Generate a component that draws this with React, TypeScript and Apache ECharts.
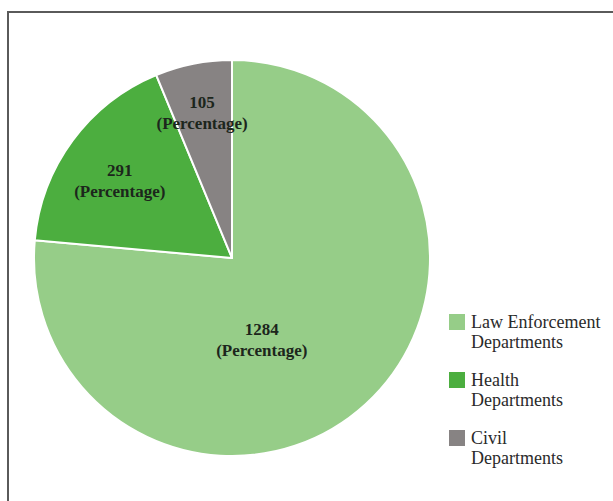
import React, { useEffect, useRef } from "react";
import * as echarts from "echarts";

const categories = ["Law Enforcement Departments", "Health Departments", "Civil Departments"];
const values = [1284, 291, 105];
const colors = ["#96cd88", "#4cae3f", "#878383"];
const labelOffsets: [number, number][] = [[-39, 7], [-30, -17], [-10, -45]];

export default function App() {
  const ref = useRef<HTMLDivElement>(null);
  useEffect(() => {
    if (!ref.current) return;
    const chart = echarts.init(ref.current, undefined, { renderer: "svg" });
    chart.setOption({
      animation: false,
      backgroundColor: "#ffffff",
      graphic: [
        {
          type: "rect",
          shape: { x: 8, y: 12, width: 640, height: 520 },
          style: { fill: "none", stroke: "#5a5a5a", lineWidth: 2 },
          silent: true,
        },
      ],
      legend: {
        orient: "vertical",
        left: 447,
        top: 292,
        padding: 0,
        itemWidth: 18,
        itemHeight: 18,
        itemGap: -2,
        icon: "rect",
        data: categories,
        formatter: (name: string) => "\n" + name.replace(" Departments", "\nDepartments"),
        textStyle: {
          fontFamily: "Liberation Serif",
          fontSize: 18,
          lineHeight: 20,
          color: "#2a2a2a",
        },
      },
      series: [
        {
          type: "pie",
          center: [232, 258],
          radius: 198,
          startAngle: 90,
          clockwise: true,
          silent: true,
          itemStyle: { borderColor: "#ffffff", borderWidth: 2 },
          label: {
            show: true,
            position: "inside",
            formatter: (p: any) => `${p.value}\n(Percentage)`,
            fontFamily: "Liberation Serif",
            fontWeight: "bold",
            fontSize: 17,
            lineHeight: 21,
            color: "#1c261c",
            align: "center",
          },
          labelLine: { show: false },
          data: categories.map((name, i) => ({
            name,
            value: values[i],
            itemStyle: { color: colors[i] },
            label: { offset: labelOffsets[i] },
          })),
        },
      ],
    });
    return () => chart.dispose();
  }, []);
  return (
    <div
      ref={ref}
      style={{ position: "fixed", left: 0, top: 0, width: 613, height: 501 }}
    />
  );
}
